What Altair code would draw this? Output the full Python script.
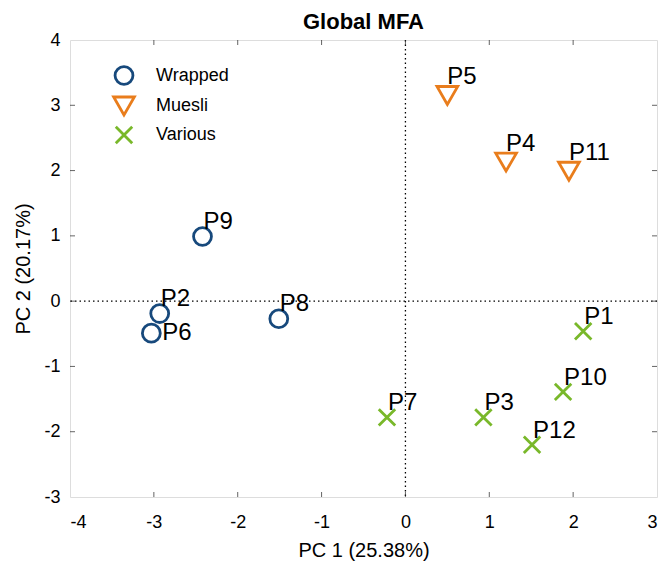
import altair as alt
import pandas as pd

names = ["P1", "P2", "P3", "P4", "P5", "P6", "P7", "P8", "P9", "P10", "P11", "P12"]
pc1 = [2.12, -2.93, 0.93, 1.20, 0.50, -3.03, -0.22, -1.51, -2.42, 1.88, 1.95, 1.51]
pc2 = [-0.46, -0.19, -1.78, 2.13, 3.15, -0.49, -1.78, -0.27, 0.99, -1.39, 1.99, -2.20]
groups = ["Various", "Wrapped", "Various", "Muesli", "Muesli", "Wrapped",
          "Various", "Wrapped", "Wrapped", "Various", "Muesli", "Various"]

group_order = ["Wrapped", "Muesli", "Various"]
group_colors = ["#17497c", "#e97d1c", "#79b82a"]
group_shapes = ["circle", "triangle-down", "M-1,-1L1,1M1,-1L-1,1"]
group_sizes = [320, 430, 270]

x_ticks = [-3, -2, -1, 0, 1, 2]
y_ticks = [-2, -1, 0, 1, 2, 3]
x_domain = [-4, 3]
y_domain = [-3, 4]

df = pd.DataFrame({"name": names, "pc1": pc1, "pc2": pc2, "group": groups})
xt = pd.DataFrame({"v": x_ticks})
yt = pd.DataFrame({"v": y_ticks})

FONT = "Liberation Sans"

xs = alt.Scale(domain=x_domain, nice=False, zero=False)
ys = alt.Scale(domain=y_domain, nice=False, zero=False)

base = alt.Chart(df)

points = base.mark_point(filled=False, strokeWidth=2.8, opacity=1).encode(
    x=alt.X("pc1:Q", scale=xs, title="PC 1 (25.38%)",
            axis=alt.Axis(values=list(range(-4, 4)), labelExpr="'' + datum.value",
                          domain=False, ticks=False, grid=False,
                          labelFontSize=18, labelPadding=16, titleFontSize=20,
                          titlePadding=9, labelColor="#000", titleColor="#000",
                          titleFontWeight="normal", labelFont=FONT, titleFont=FONT)),
    y=alt.Y("pc2:Q", scale=ys, title="PC 2 (20.17%)",
            axis=alt.Axis(values=list(range(-3, 5)), labelExpr="'' + datum.value",
                          domain=False, ticks=False, grid=False,
                          labelFontSize=18, labelPadding=10, titleFontSize=20,
                          titlePadding=10, labelColor="#000", titleColor="#000",
                          titleFontWeight="normal", labelFont=FONT, titleFont=FONT)),
    color=alt.Color("group:N", scale=alt.Scale(domain=group_order, range=group_colors),
                    legend=alt.Legend(title=None, orient="none", legendX=42, legendY=25,
                                      padding=0, labelFontSize=18, labelFont=FONT,
                                      labelColor="#000", labelOffset=20, rowPadding=0,
                                      symbolStrokeWidth=2.8)),
    shape=alt.Shape("group:N", scale=alt.Scale(domain=group_order, range=group_shapes)),
    size=alt.Size("group:N", scale=alt.Scale(type="ordinal", domain=group_order,
                                             range=group_sizes)),
)

vline = alt.Chart(pd.DataFrame({"v": [0]})).mark_rule(
    color="#000", strokeDash=[1.5, 3], strokeWidth=1.3).encode(x=alt.X("v:Q", scale=xs))
hline = alt.Chart(pd.DataFrame({"v": [0]})).mark_rule(
    color="#000", strokeDash=[1.5, 3], strokeWidth=1.3).encode(y=alt.Y("v:Q", scale=ys))

def tick_layer(data, orient, ch, val):
    m = alt.Chart(data).mark_tick(orient=orient, size=10, thickness=1, color="#222", clip=True)
    if ch == "x":
        return m.encode(x=alt.X("v:Q", scale=xs), y=alt.YDatum(val, scale=ys))
    return m.encode(y=alt.Y("v:Q", scale=ys), x=alt.XDatum(val, scale=xs))

ticks = [
    tick_layer(xt, "vertical", "x", y_domain[0]),
    tick_layer(xt, "vertical", "x", y_domain[1]),
    tick_layer(yt, "horizontal", "y", x_domain[0]),
    tick_layer(yt, "horizontal", "y", x_domain[1]),
]

def labels(filt, dx, dy):
    return base.transform_filter(filt).mark_text(
        align="left", baseline="alphabetic", dx=dx, dy=dy, fontSize=24, font=FONT, color="#000"
    ).encode(x=alt.X("pc1:Q", scale=xs), y=alt.Y("pc2:Q", scale=ys), text="name:N")

lab_w = labels("datum.group == 'Wrapped' && datum.name != 'P6'", 1, -8)
lab_p6 = labels("datum.name == 'P6'", 11, 7)
lab_m = labels("datum.group == 'Muesli'", 0, -11)
lab_v = labels("datum.group == 'Various'", 1, -7)

chart = alt.layer(vline, hline, *ticks, points, lab_w, lab_p6, lab_m, lab_v).properties(
    width=587, height=457,
    title=alt.TitleParams("Global MFA", fontSize=22, fontWeight="bold", font=FONT,
                          color="#000", offset=-3, anchor="middle"),
    autosize=alt.AutoSizeParams(type="none"),
    padding={"left": 70, "top": 40, "right": 5, "bottom": 69},
).configure_view(stroke="#222", strokeWidth=1).configure(background="white")

chart.save("out.html", embed_options={"renderer": "svg", "actions": False})
